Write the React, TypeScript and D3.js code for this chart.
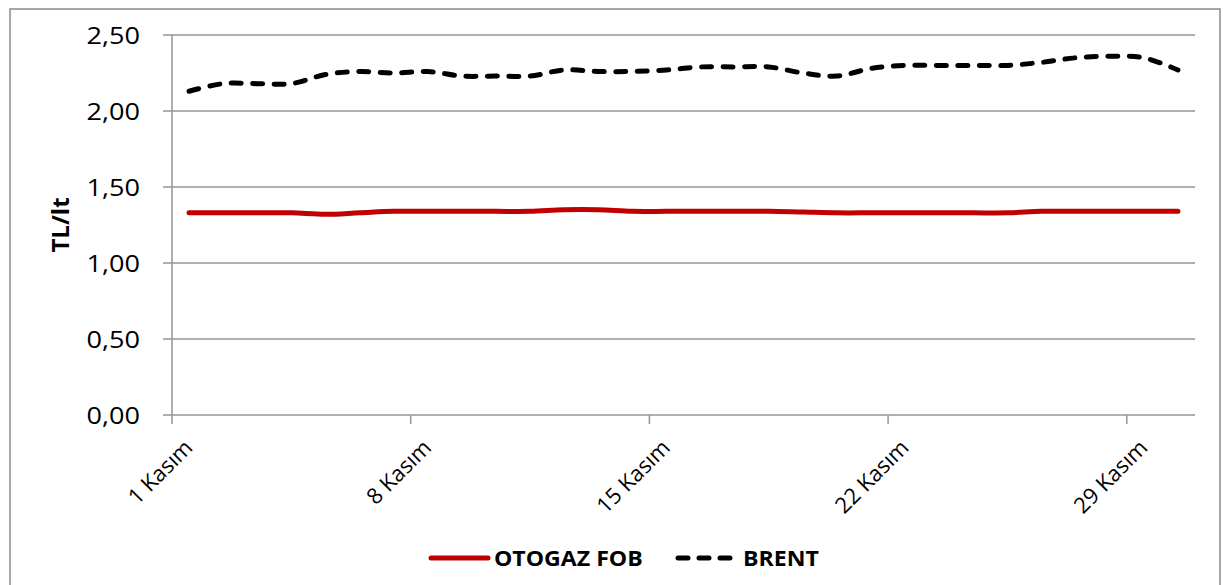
import React, { useEffect, useRef } from 'react';
import * as d3 from 'd3';

const days: number[] = d3.range(1, 31);
const tickDays: number[] = [1, 8, 15, 22, 29];
const yTicks: number[] = [0, 0.5, 1, 1.5, 2, 2.5];

const otogaz: number[] = [
  1.33, 1.33, 1.33, 1.33, 1.32, 1.33, 1.34, 1.34, 1.34, 1.34,
  1.34, 1.35, 1.35, 1.34, 1.34, 1.34, 1.34, 1.34, 1.335, 1.33,
  1.33, 1.33, 1.33, 1.33, 1.33, 1.34, 1.34, 1.34, 1.34, 1.34
];
const brent: number[] = [
  2.13, 2.18, 2.18, 2.18, 2.24, 2.26, 2.25, 2.26, 2.23, 2.23,
  2.23, 2.27, 2.26, 2.26, 2.27, 2.29, 2.29, 2.29, 2.25, 2.23,
  2.28, 2.30, 2.30, 2.30, 2.30, 2.32, 2.35, 2.36, 2.35, 2.27
];

const FONT = "'Open Sans', sans-serif";

const App: React.FC = () => {
  const svgRef = useRef<SVGSVGElement>(null);

  useEffect(() => {
    if (!svgRef.current) return;
    const width = 1223;
    const height = 585;
    const plot = { left: 172, right: 1195, top: 35, bottom: 415 };

    const svg = d3.select(svgRef.current)
      .attr('width', width)
      .attr('height', height)
      .style('font-family', FONT);
    svg.selectAll('*').remove();

    svg.append('rect')
      .attr('width', width).attr('height', height).attr('fill', '#fff');

    // chart frame
    svg.append('rect')
      .attr('x', 10).attr('y', 9)
      .attr('width', 1210).attr('height', 590)
      .attr('fill', 'none')
      .attr('stroke', '#8a8a8a')
      .attr('stroke-width', 1.5);

    const x = d3.scaleBand<number>()
      .domain(days)
      .range([plot.left, plot.right])
      .paddingInner(0).paddingOuter(0);

    const y = d3.scaleLinear()
      .domain([0, 2.5])
      .range([plot.bottom, plot.top]);

    const fmt = (v: number) => d3.format('.2f')(v).replace('.', ',');

    // gridlines
    svg.append('g').selectAll('line')
      .data(yTicks)
      .enter().append('line')
      .attr('x1', plot.left - 9)
      .attr('x2', plot.right)
      .attr('y1', d => y(d))
      .attr('y2', d => y(d))
      .attr('stroke', '#969696')
      .attr('stroke-width', 1.5);

    // y tick labels
    svg.append('g').selectAll('text')
      .data(yTicks)
      .enter().append('text')
      .attr('transform', d => `translate(140,${y(d)}) scale(1.13,1)`)
      .attr('dy', '0.36em')
      .attr('text-anchor', 'end')
      .style('font-size', '24px')
      .attr('fill', '#000')
      .text(d => fmt(d));

    // y axis line
    svg.append('line')
      .attr('x1', plot.left).attr('x2', plot.left)
      .attr('y1', plot.top).attr('y2', plot.bottom)
      .attr('stroke', '#969696').attr('stroke-width', 1.5);

    // x ticks
    svg.append('g').selectAll('line')
      .data(tickDays)
      .enter().append('line')
      .attr('x1', d => x(d) as number)
      .attr('x2', d => x(d) as number)
      .attr('y1', plot.bottom)
      .attr('y2', plot.bottom + 9)
      .attr('stroke', '#969696')
      .attr('stroke-width', 1.5);

    svg.append('g').selectAll('text')
      .data(tickDays)
      .enter().append('text')
      .attr('transform', d => `translate(${(x(d) as number) + 22},${plot.bottom + 34}) rotate(-45)`)
      .attr('text-anchor', 'end')
      .style('font-size', '22px')
      .attr('fill', '#000')
      .text(d => `${d} Kasım`);

    // y axis title
    svg.append('text')
      .attr('transform', 'translate(69,225) rotate(-90)')
      .attr('text-anchor', 'middle')
      .style('font-size', '24px')
      .style('font-weight', 'bold')
      .text('TL/lt');

    const cx = (d: number) => (x(d) as number) + x.bandwidth() / 2;

    const line = d3.line<number>()
      .x((_, i) => cx(days[i]))
      .y(v => y(v))
      .curve(d3.curveCardinal.tension(0));

    svg.append('path')
      .datum(otogaz)
      .attr('fill', 'none')
      .attr('stroke', '#c00000')
      .attr('stroke-width', 5)
      .attr('stroke-linecap', 'round')
      .attr('d', line);

    svg.append('path')
      .datum(brent)
      .attr('fill', 'none')
      .attr('stroke', '#000')
      .attr('stroke-width', 5)
      .attr('stroke-linecap', 'round')
      .attr('stroke-dasharray', '10 11.5')
      .attr('d', line);

    // legend
    const ly = 558;
    const legend = svg.append('g');
    legend.append('line')
      .attr('x1', 431).attr('x2', 488)
      .attr('y1', ly).attr('y2', ly)
      .attr('stroke', '#c00000').attr('stroke-width', 5)
      .attr('stroke-linecap', 'round');
    legend.append('text')
      .attr('transform', `translate(494,${ly}) scale(1.1,1)`)
      .attr('dy', '0.36em')
      .style('font-size', '21px').style('font-weight', 'bold')
      .text('OTOGAZ FOB');
    legend.append('line')
      .attr('x1', 678).attr('x2', 734)
      .attr('y1', ly).attr('y2', ly)
      .attr('stroke', '#000').attr('stroke-width', 5)
      .attr('stroke-linecap', 'round')
      .attr('stroke-dasharray', '10 11');
    legend.append('text')
      .attr('transform', `translate(743,${ly}) scale(1.1,1)`)
      .attr('dy', '0.36em')
      .style('font-size', '21px').style('font-weight', 'bold')
      .text('BRENT');
  }, []);

  return (
    <div style={{ position: 'fixed', left: 0, top: 0 }}>
      <svg ref={svgRef}></svg>
    </div>
  );
};

export default App;
